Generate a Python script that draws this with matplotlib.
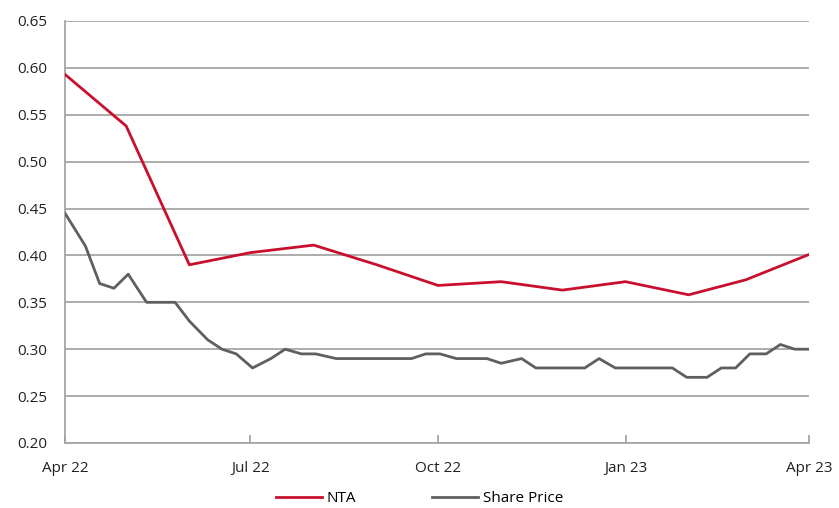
import numpy as np
import pandas as pd
import matplotlib
matplotlib.use("Agg")
import matplotlib.pyplot as plt
import matplotlib.dates as mdates

plt.rcParams['font.family'] = ['Open Sans', 'DejaVu Sans']

# NTA, monthly
nta_dates = ["2022-04-01", "2022-05-01", "2022-06-01", "2022-07-01", "2022-08-01",
             "2022-09-01", "2022-10-01", "2022-11-01", "2022-12-01", "2023-01-01",
             "2023-02-01", "2023-03-01", "2023-04-01"]
nta_values = [0.593, 0.538, 0.390, 0.403, 0.411, 0.390, 0.368, 0.372, 0.363,
              0.372, 0.358, 0.374, 0.401]

# Share price, roughly weekly
sp_dates = ["2022-04-01", "2022-04-11", "2022-04-18", "2022-04-25", "2022-05-02",
            "2022-05-11", "2022-05-18", "2022-05-25", "2022-06-01", "2022-06-10",
            "2022-06-17", "2022-06-24", "2022-07-02", "2022-07-11", "2022-07-18",
            "2022-07-26", "2022-08-02", "2022-08-12", "2022-08-19", "2022-08-26",
            "2022-09-02", "2022-09-09", "2022-09-18", "2022-09-25", "2022-10-02",
            "2022-10-10", "2022-10-17", "2022-10-25", "2022-11-01", "2022-11-11",
            "2022-11-18", "2022-11-25", "2022-12-02", "2022-12-12", "2022-12-19",
            "2022-12-27", "2023-01-03", "2023-01-10", "2023-01-17", "2023-01-24",
            "2023-01-31", "2023-02-10", "2023-02-17", "2023-02-24", "2023-03-03",
            "2023-03-11", "2023-03-18", "2023-03-25", "2023-04-01"]
sp_values = [0.445, 0.410, 0.370, 0.365, 0.380,
             0.350, 0.350, 0.350, 0.330, 0.310,
             0.300, 0.295, 0.280, 0.290, 0.300,
             0.295, 0.295, 0.290, 0.290, 0.290,
             0.290, 0.290, 0.290, 0.295, 0.295,
             0.290, 0.290, 0.290, 0.285, 0.290,
             0.280, 0.280, 0.280, 0.280, 0.290,
             0.280, 0.280, 0.280, 0.280, 0.280,
             0.270, 0.270, 0.280, 0.280, 0.295,
             0.295, 0.305, 0.300, 0.300]

nta_x = pd.to_datetime(nta_dates)
sp_x = pd.to_datetime(sp_dates)

fig = plt.figure(figsize=(8.39, 5.08), dpi=100)
ax = fig.add_axes([0.0775, 0.128, 0.8867, 0.8307])

grid_col = "#a6a6a6"
ax.plot(nta_x, nta_values, color="#c8102e", lw=2, label="NTA", zorder=3)
ax.plot(sp_x, sp_values, color="#5f5f5f", lw=2, label="Share Price", zorder=3)

ax.set_ylim(0.20, 0.65)
ax.set_yticks(np.arange(0.20, 0.651, 0.05))
ax.yaxis.set_major_formatter(plt.FormatStrFormatter("%.2f"))
ax.set_xlim(pd.Timestamp("2022-04-01"), pd.Timestamp("2023-04-01"))
ticks = pd.to_datetime(["2022-04-01", "2022-07-01", "2022-10-01", "2023-01-01", "2023-04-01"])
ax.set_xticks(ticks)
ax.set_xticklabels(["Apr 22", "Jul 22", "Oct 22", "Jan 23", "Apr 23"])

ax.grid(axis="y", color=grid_col, lw=1.3)
ax.set_axisbelow(True)
for s in ["top", "right"]:
    ax.spines[s].set_visible(False)
for s in ["left", "bottom"]:
    ax.spines[s].set_color(grid_col)
    ax.spines[s].set_linewidth(1.3)

ax.tick_params(axis="x", direction="in", length=6, width=1.3,
               labelsize=11, pad=13, colors="#222222")
ax.tick_params(axis="x", color=grid_col)
ax.tick_params(axis="y", length=0, labelsize=11, pad=13, labelcolor="#222222")

fig.legend(loc="center", bbox_to_anchor=(0.5, 0.018), ncol=2, frameon=False,
           fontsize=11, handlelength=3, columnspacing=5, handletextpad=0.3)

fig.savefig("out.png", dpi=100)
